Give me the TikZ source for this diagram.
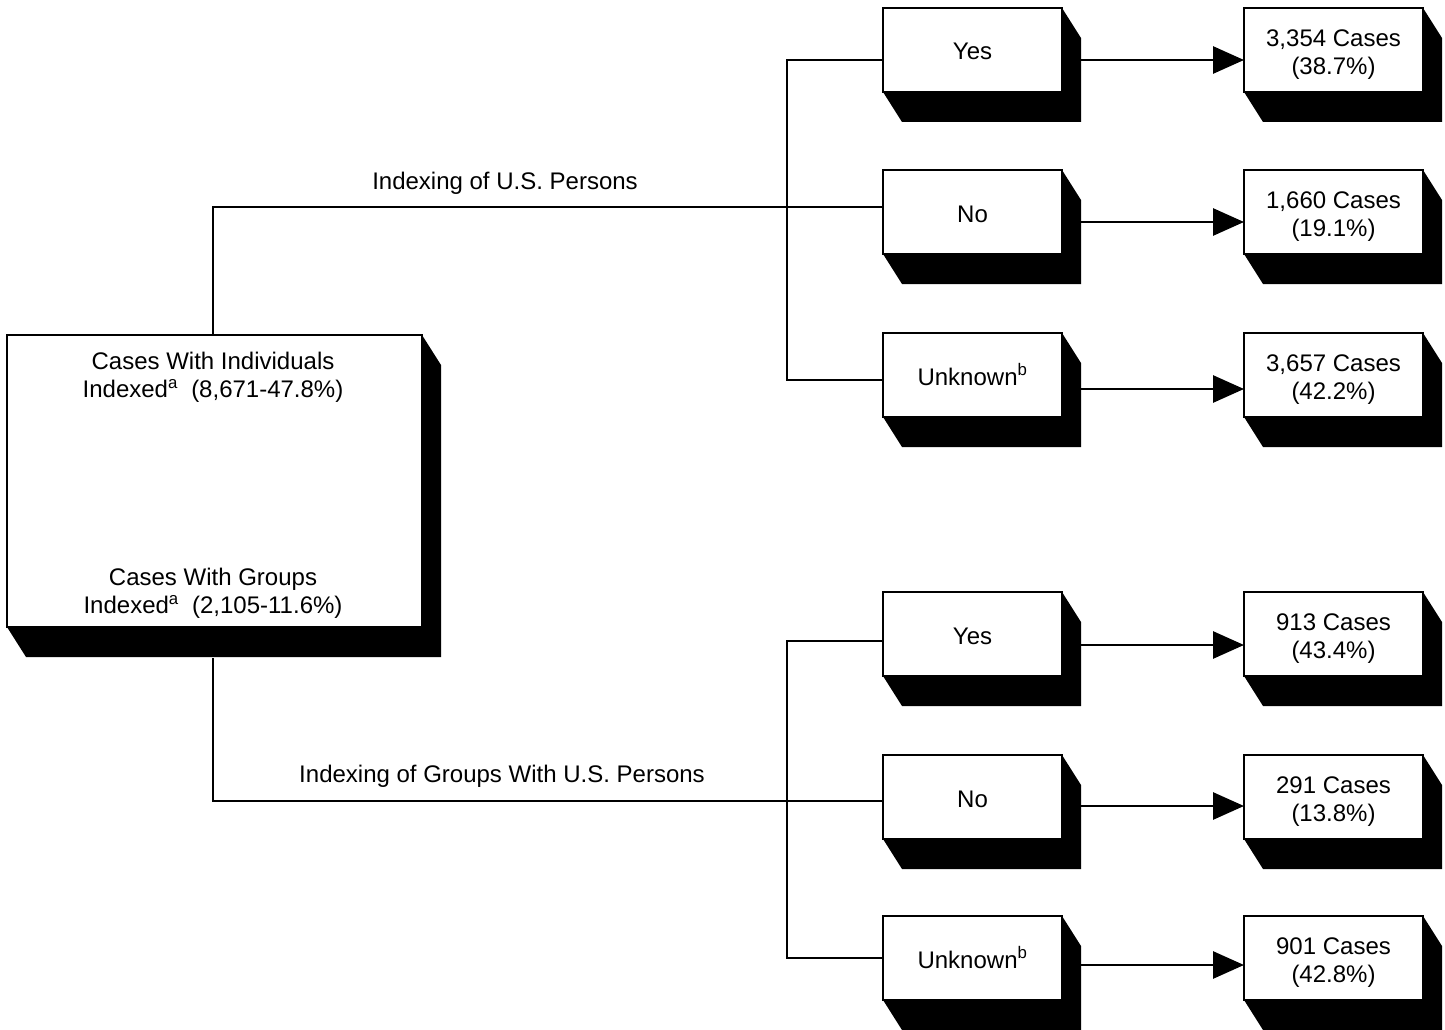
\documentclass[tikz,border=0pt]{standalone}
\usepackage{fontspec}
\setmainfont{Liberation Sans}
\usetikzlibrary{arrows.meta,calc}
\newcommand\boxshade[1]{\fill (#1.north east) -- ++(19,30) |- ($(#1.south west)+(19,30)$) -- (#1.south west) -- (#1.south east) -- cycle;}
\begin{document}
\begin{tikzpicture}[x=1pt,y=-1pt,
  font=\fontsize{24}{28}\selectfont,
  tdbox/.style={draw, fill=white, line width=2.8pt, outer sep=0pt, inner sep=0pt, align=center},
  midbox/.style={tdbox, minimum width=179pt, minimum height=84pt, text height=25pt, text depth=5pt},
  endbox/.style={tdbox, minimum width=179pt, minimum height=84pt, text height=54pt, text depth=5pt},
  conn/.style={line width=2.8pt},
  arr/.style={line width=2.8pt, -{Triangle[length=31pt,width=27pt]}},
  lbl/.style={inner sep=0pt}]
\useasboundingbox (0,0) rectangle (1445,1030);
% left box
\node[tdbox, minimum width=415pt, minimum height=292pt] (L) at (214.5,481) {};
\node[lbl, align=center] (Ltop) at (213,377) {Cases With Individuals\\Indexed\textsuperscript{a}\ \ (8,671-47.8\%)};
\node[lbl, align=center] (Lbot) at (213,593) {Cases With Groups\\Indexed\textsuperscript{a}\ \ (2,105-11.6\%)};
% middle boxes
\node[midbox] (m1) at (972.5,50) {Yes};
\node[midbox] (m2) at (972.5,212) {No};
\node[midbox] (m3) at (972.5,375) {Unknown\textsuperscript{b}};
\node[midbox] (m4) at (972.5,634) {Yes};
\node[midbox] (m5) at (972.5,797) {No};
\node[midbox] (m6) at (972.5,958) {Unknown\textsuperscript{b}};
% end boxes
\node[endbox] (r1) at (1333.5,50) {3,354 Cases\\(38.7\%)};
\node[endbox] (r2) at (1333.5,212) {1,660 Cases\\(19.1\%)};
\node[endbox] (r3) at (1333.5,375) {3,657 Cases\\(42.2\%)};
\node[endbox] (r4) at (1333.5,634) {913 Cases\\(43.4\%)};
\node[endbox] (r5) at (1333.5,797) {291 Cases\\(13.8\%)};
\node[endbox] (r6) at (1333.5,958) {901 Cases\\(42.8\%)};
% shades
\boxshade{L}
\foreach \n in {m1,m2,m3,m4,m5,m6,r1,r2,r3,r4,r5,r6} {\boxshade{\n}}
% labels
\node[lbl] (t1) at (505,183) {Indexing of U.S. Persons};
\node[lbl] (t2) at (502,776) {Indexing of Groups With U.S. Persons};
% connectors top
\coordinate (b1) at (787,60);
\coordinate (b3) at (787,380);
\draw[conn] ([xshift=-1.5pt]L.north) |- ([yshift=5pt]m2.west);
\draw[conn] ([yshift=-10pt]m1.west) -| (b1) -- (b3) -- ([yshift=-5pt]m3.west);
% connectors bottom
\coordinate (b4) at (787,641);
\coordinate (b6) at (787,958);
\draw[conn] ($(L.south)+(-1.5,31)$) |- ([yshift=-4pt]m5.west);
\draw[conn] ([yshift=-7pt]m4.west) -| (b4) -- (b6) -- (m6.west);
% arrows
\draw[arr] ([xshift=19pt,yshift=-10pt]m1.east) -- ([yshift=-10pt]r1.west);
\draw[arr] ([xshift=19pt,yshift=-10pt]m2.east) -- ([yshift=-10pt]r2.west);
\draw[arr] ([xshift=19pt,yshift=-14pt]m3.east) -- ([yshift=-14pt]r3.west);
\draw[arr] ([xshift=19pt,yshift=-11pt]m4.east) -- ([yshift=-11pt]r4.west);
\draw[arr] ([xshift=19pt,yshift=-9pt]m5.east) -- ([yshift=-9pt]r5.west);
\draw[arr] ([xshift=19pt,yshift=-7pt]m6.east) -- ([yshift=-7pt]r6.west);
\end{tikzpicture}
\end{document}
